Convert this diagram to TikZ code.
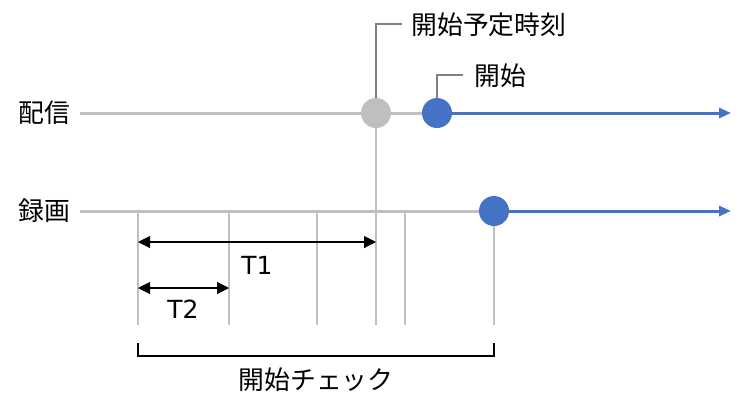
\documentclass[tikz,border=0pt]{standalone}
\usepackage{fontspec}
\setmainfont{DejaVu Sans}
\newfontfamily\jpfont{Noto Sans CJK JP}
\usepackage{tikz}
\usetikzlibrary{arrows.meta}

\definecolor{lineblue}{RGB}{68,114,196}
\definecolor{linegray}{RGB}{191,191,191}
\definecolor{leadgray}{RGB}{127,127,127}

\begin{document}
\begin{tikzpicture}[x=0.02cm,y=-0.02cm]

  \tikzstyle{lbl}=[inner sep=0pt,font=\fontsize{14.7}{16}\selectfont\jpfont]
  \tikzstyle{tlbl}=[inner sep=0pt,font=\fontsize{14.2}{16}\selectfont]
  \tikzstyle{dot}=[circle,inner sep=0pt,minimum size=0.6cm]
  \tikzstyle{gdot}=[dot,fill=linegray]
  \tikzstyle{bdot}=[dot,fill=lineblue]

  \useasboundingbox (0,0) rectangle (743,410);

  %% \draw [help lines,step=50] (0,0) grid (743,410);

  \coordinate (h0)   at (80,113);
  \coordinate (h1)   at (731,113);
  \coordinate (r0)   at (80,211);
  \coordinate (r1)   at (731,211);
  \coordinate (ptip) at (402,24);
  \coordinate (stip) at (463,75);
  \coordinate (pbot) at (376,325);
  \coordinate (rbot) at (494,325);
  \coordinate (t1a)  at (138,242);
  \coordinate (t1b)  at (376,242);
  \coordinate (t2a)  at (138,288);
  \coordinate (t2b)  at (229,288);
  \coordinate (bra)  at (138,343);
  \coordinate (brb)  at (494,356);
  \coordinate (brc)  at (494,343);

  \tikzstyle{base}=[draw=linegray,line width=1.7pt]
  \tikzstyle{live}=[-{Triangle[length=0.24cm,width=0.2cm]},draw=lineblue,line width=1.7pt]
  \tikzstyle{tick}=[draw=linegray,line width=0.85pt]
  \tikzstyle{leader}=[draw=leadgray,line width=0.7pt]
  \tikzstyle{dim}=[{Triangle[length=0.24cm,width=0.24cm]}-{Triangle[length=0.24cm,width=0.24cm]},line width=0.6pt]

  % time axes
  \draw [base] (h0) -- (376,113);
  \draw [base] (r0) -- (494,211);
  \foreach \x in {138,229,317,405}
    \draw [tick] (\x,211) coordinate (tk\x) -- (\x,325);

  \node (plan)  at (376,113) [gdot] {};
  \node (start) at (437,113) [bdot] {};
  \node (rec)   at (494,211) [bdot] {};

  \node (haishin) at (44,113)  [lbl] {配信};
  \node (rokuga)  at (44,211)  [lbl] {録画};
  \node (ptxt)    at (411,25)  [lbl,anchor=west] {開始予定時刻};
  \node (stxt)    at (474,76)  [lbl,anchor=west] {開始};
  \node (t1)      at (257,265) [tlbl] {T1};
  \node (t2)      at (183,309) [tlbl] {T2};
  \node (check)   at (316,380) [lbl] {開始チェック};

  \path (plan)  edge [base] (start)
        (start) edge [live] (h1)
        (rec)   edge [live] (r1)
        (plan)  edge [tick] (pbot)
        (rec)   edge [tick] (rbot);
  \draw [leader] (plan) |- (ptip);
  \draw [leader] (start) |- (stip);
  \draw [dim] (t1a) -- (t1b);
  \draw [dim] (t2a) -- (t2b);
  \draw [line width=0.6pt] (bra) |- (brb) -- (brc);
\end{tikzpicture}
\end{document}
